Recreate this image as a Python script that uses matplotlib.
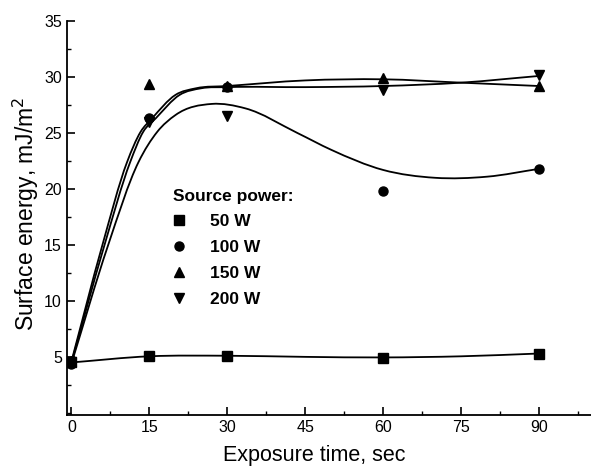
import numpy as np
import matplotlib
matplotlib.use('Agg')
import matplotlib.pyplot as plt
from matplotlib.path import Path
from matplotlib.patches import PathPatch
from matplotlib.ticker import MultipleLocator

plt.rcParams['font.family'] = ['Liberation Sans', 'DejaVu Sans']

time_s = [0, 15, 30, 60, 90]
power_labels = ['50 W', '100 W', '150 W', '200 W']
e_50w = [4.5, 5.1, 5.1, 4.9, 5.3]
e_100w = [4.4, 26.3, 29.1, 19.8, 21.8]
e_150w = [4.6, 29.4, 29.2, 29.9, 29.2]
e_200w = [4.5, 26.0, 26.5, 28.8, 30.2]
markers = ['s', 'o', '^', 'v']

# Smoothed trend lines as drawn in the figure
fit_t_50w = [0, 15, 30, 45, 60, 75, 90]
fit_50w = [4.5, 5.05, 5.1, 5.0, 4.95, 5.05, 5.3]
fit_t_100w = [0, 7, 12.9, 16.5, 20, 27, 33.5, 43.5, 50, 60, 70, 80, 90]
fit_100w = [4.4, 14.9, 22.4, 25.1, 26.6, 27.6, 27.2, 25.0, 23.5, 21.7, 21.0, 21.1, 21.8]
fit_t_150w = [0, 5.9, 10.7, 13.3, 15.5, 20, 24, 30, 45, 60, 75, 90]
fit_150w = [4.6, 14.9, 22.4, 25.1, 26.3, 28.4, 29.0, 29.2, 29.7, 29.8, 29.5, 29.2]
fit_t_200w = [0, 6.3, 11.3, 13.8, 16.2, 20.8, 25, 30, 45, 60, 75, 90]
fit_200w = [4.5, 14.9, 22.4, 25.1, 26.3, 28.4, 29.0, 29.1, 29.1, 29.2, 29.5, 30.1]


def smooth_path(xs, ys):
    # cubic Hermite in x (three-point slopes), drawn as Bezier segments
    x = np.asarray(xs, float)
    y = np.asarray(ys, float)
    h = np.diff(x)
    d = np.diff(y) / h
    m = np.empty_like(y)
    m[0] = d[0]
    m[-1] = d[-1]
    m[1:-1] = (h[1:] * d[:-1] + h[:-1] * d[1:]) / (h[:-1] + h[1:])
    verts = [(x[0], y[0])]
    codes = [Path.MOVETO]
    for i in range(len(x) - 1):
        verts += [(x[i] + h[i] / 3, y[i] + m[i] * h[i] / 3),
                  (x[i + 1] - h[i] / 3, y[i + 1] - m[i + 1] * h[i] / 3),
                  (x[i + 1], y[i + 1])]
        codes += [Path.CURVE4] * 3
    return Path(verts, codes)


fig, ax = plt.subplots(figsize=(5.91, 4.69), dpi=100)
fig.subplots_adjust(left=0.113, right=1.0, bottom=0.115, top=0.955)

fits = [(fit_t_50w, fit_50w), (fit_t_100w, fit_100w),
        (fit_t_150w, fit_150w), (fit_t_200w, fit_200w)]
for (ft, fv), vals, mk, lab in zip(fits, [e_50w, e_100w, e_150w, e_200w], markers, power_labels):
    ax.add_patch(PathPatch(smooth_path(ft, fv), facecolor='none',
                           edgecolor='black', lw=1.3, zorder=2))
    ax.plot(time_s, vals, linestyle='none', marker=mk, color='black',
            markersize=6.5, label=lab, zorder=3)

ax.set_xlim(-0.9, 100)
ax.set_ylim(-0.2, 35)
ax.xaxis.set_major_locator(MultipleLocator(15))
ax.xaxis.set_minor_locator(MultipleLocator(7.5))
ax.set_yticks([5, 10, 15, 20, 25, 30, 35])
ax.yaxis.set_minor_locator(MultipleLocator(2.5))
ax.tick_params(which='major', direction='in', length=6, width=1.2, labelsize=11.5)
ax.tick_params(which='minor', direction='in', length=3, width=1.0)
ax.spines['top'].set_visible(False)
ax.spines['right'].set_visible(False)
ax.spines['left'].set_linewidth(1.3)
ax.spines['bottom'].set_linewidth(1.3)

ax.set_xlabel('Exposure time, sec', fontsize=15.5)
ax.xaxis.set_label_coords(0.473, -0.075)
ax.set_ylabel('Surface energy, mJ/m$^2$', fontsize=16.5)
ax.yaxis.set_label_coords(-0.05, 0.51)

leg = ax.legend(title='Source power:', loc='upper left', bbox_to_anchor=(0.203, 0.575),
                frameon=False, prop={'weight': 'bold', 'size': 12.5},
                title_fontproperties={'weight': 'bold', 'size': 12.5},
                alignment='left', handlelength=0.7, handletextpad=1.4,
                labelspacing=0.62, borderpad=0, borderaxespad=0)

fig.savefig('out.png', dpi=100)
